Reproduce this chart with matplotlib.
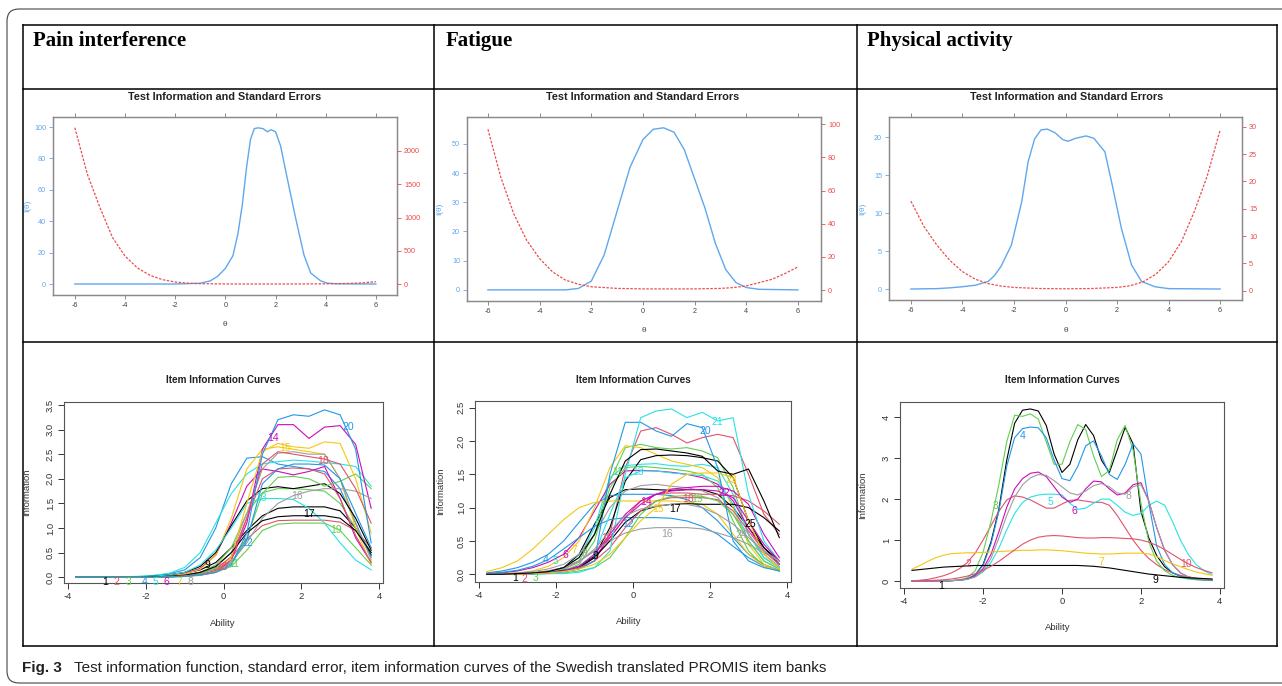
import matplotlib
matplotlib.use('Agg')
from matplotlib import pyplot as plt
from matplotlib.lines import Line2D
from matplotlib.patches import FancyBboxPatch
from matplotlib.transforms import IdentityTransform

# ---------------- data ----------------
col_titles = ['Pain interference', 'Fatigue', 'Physical activity']
caption_bold = 'Fig. 3'
caption_text = 'Test information function, standard error, item information curves of the Swedish translated PROMIS item banks'

# test information / standard error (top row)
pain_info_x = [-6, -2, -1, -0.6, -0.3, 0, 0.3, 0.5, 0.67, 0.85, 1.0, 1.15, 1.3, 1.5, 1.67, 1.82, 2.0, 2.2,
               2.47, 2.8, 3.13, 3.4, 3.8, 4.07, 4.5, 6]
pain_info = [0, 0, 0.5, 2, 5, 10, 18, 32, 50, 75, 92, 99, 99.5, 99, 97, 98.3, 97, 88,
             67, 42, 18.6, 7, 2, 0.5, 0.1, 0]
pain_se_x = [-6, -5.5, -5, -4.5, -4, -3.5, -3, -2.5, -2, -1.5, -1, 0, 1, 2, 3, 4, 5, 5.5, 6]
pain_se = [2350, 1650, 1150, 700, 420, 240, 130, 65, 30, 12, 5, 1, 0.5, 0.5, 1, 3, 10, 18, 35]

fat_info_x = [-6, -3, -2.5, -2, -1.5, -1, -0.5, 0, 0.4, 0.8, 1.2, 1.6, 2.0, 2.4, 2.8, 3.2, 3.6, 4, 4.5, 6]
fat_info = [0, 0, 0.5, 3, 12, 27, 42, 51.5, 55, 55.5, 54, 48, 38, 28, 16, 7, 2.5, 0.8, 0.2, 0]
fat_se_x = [-6, -5.5, -5, -4.5, -4, -3.5, -3, -2.5, -2, -1, 0, 2, 3, 3.5, 4, 4.5, 5, 5.5, 6]
fat_se = [97, 68, 46, 30, 19, 11, 6, 3.5, 2, 1, 0.7, 0.7, 1, 1.5, 2.5, 4.5, 6.5, 10, 14]

phys_info_x = [-6, -5, -4.5, -4, -3.5, -3, -2.75, -2.5, -2.1, -1.7, -1.45, -1.2, -0.95, -0.7, -0.4, -0.1,
               0.1, 0.4, 0.8, 1.1, 1.53, 1.79, 2.17, 2.56, 2.95, 3.47, 4, 6]
phys_info = [0, 0.05, 0.15, 0.3, 0.5, 1.0, 1.8, 3.0, 5.8, 11.5, 16.8, 19.8, 21, 21.1, 20.6, 19.7,
             19.5, 19.9, 20.2, 19.9, 18.1, 14.1, 8, 3.2, 1, 0.3, 0.05, 0]
phys_se_x = [-6, -5.5, -5, -4.5, -4, -3.5, -3, -2.5, -2, -1, 0, 1, 2, 2.5, 3, 3.5, 4, 4.5, 5, 5.5, 6]
phys_se = [16.4, 11.8, 8.4, 5.6, 3.5, 2.1, 1.3, 0.85, 0.6, 0.4, 0.35, 0.4, 0.6, 0.9, 1.6, 3.0, 5.3, 9,
           14.5, 21, 29.4]

# item information curves (bottom row)
pain_x = [-3.8, -3.4, -3.0, -2.6, -2.2, -1.8, -1.4, -1.0, -0.6, -0.2, 0.2, 0.6, 1.0, 1.4, 1.8, 2.2, 2.6, 3.0, 3.4, 3.8]
pain_items = [
    [0, 0, 0, 0, 0.01, 0.02, 0.04, 0.08, 0.15, 0.3, 0.6, 0.95, 1.25, 1.4, 1.43, 1.43, 1.43, 1.35, 1.0, 0.45],
    [0, 0, 0, 0, 0, 0.01, 0.02, 0.04, 0.08, 0.18, 0.4, 0.78, 1.05, 1.15, 1.16, 1.16, 1.16, 1.12, 0.95, 0.6],
    [0, 0, 0, 0, 0, 0.01, 0.02, 0.05, 0.1, 0.25, 0.6, 1.3, 1.72, 1.8, 1.8, 1.78, 1.75, 1.5, 1.0, 0.5],
    [0, 0, 0, 0, 0.01, 0.03, 0.07, 0.15, 0.4, 1.0, 1.9, 2.42, 2.45, 2.3, 2.25, 2.2, 2.15, 1.8, 1.1, 0.4],
    [0, 0, 0, 0.01, 0.02, 0.04, 0.08, 0.2, 0.5, 1.1, 1.7, 2.1, 2.3, 2.35, 2.38, 2.36, 2.33, 2.3, 2.25, 1.85],
    [0, 0, 0, 0, 0.01, 0.02, 0.04, 0.08, 0.18, 0.45, 1.1, 1.85, 2.2, 2.15, 2.08, 2.15, 2.25, 1.6, 0.8, 0.3],
    [0, 0, 0, 0, 0, 0.01, 0.03, 0.07, 0.16, 0.45, 1.2, 2.2, 2.6, 2.65, 2.6, 2.55, 2.5, 2.0, 1.0, 0.25],
    [0, 0, 0, 0, 0, 0.01, 0.02, 0.04, 0.08, 0.2, 0.5, 1.3, 2.2, 2.52, 2.55, 2.5, 2.5, 2.0, 1.1, 0.35],
    [0, 0, 0, 0, 0.01, 0.02, 0.05, 0.1, 0.22, 0.5, 1.05, 1.55, 1.8, 1.84, 1.8, 1.85, 1.9, 1.7, 1.2, 0.55],
    [0, 0, 0, 0, 0, 0.01, 0.02, 0.05, 0.1, 0.16, 0.42, 1.2, 2.0, 2.2, 2.22, 2.2, 2.1, 1.6, 0.85, 0.3],
    [0, 0, 0, 0, 0, 0, 0.01, 0.03, 0.08, 0.18, 0.3, 0.8, 1.7, 2.03, 2.05, 2.0, 1.85, 1.95, 2.1, 1.8],
    [0, 0, 0, 0, 0, 0, 0.01, 0.02, 0.05, 0.12, 0.28, 0.75, 1.9, 2.2, 2.3, 2.3, 2.28, 2.0, 1.3, 0.6],
    [0, 0, 0, 0, 0.01, 0.02, 0.05, 0.1, 0.25, 0.55, 1.0, 1.5, 1.6, 1.6, 1.58, 1.4, 1.1, 0.7, 0.35, 0.15],
    [0, 0, 0, 0, 0, 0, 0.01, 0.02, 0.04, 0.1, 0.35, 1.1, 2.6, 3.1, 3.1, 2.82, 3.05, 3.08, 2.7, 1.4],
    [0, 0, 0, 0, 0, 0, 0.01, 0.02, 0.05, 0.12, 0.4, 1.5, 2.55, 2.72, 2.65, 2.62, 2.75, 2.72, 2.0, 0.9],
    [0, 0, 0, 0, 0, 0, 0.01, 0.02, 0.05, 0.12, 0.3, 0.7, 1.2, 1.5, 1.66, 1.75, 1.8, 1.8, 1.75, 1.6],
    [0, 0, 0, 0, 0, 0.01, 0.02, 0.04, 0.1, 0.22, 0.5, 0.9, 1.15, 1.23, 1.25, 1.25, 1.25, 1.2, 0.95, 0.5],
    [0, 0, 0, 0, 0, 0, 0.01, 0.03, 0.06, 0.14, 0.35, 1.2, 2.3, 2.55, 2.5, 2.45, 2.4, 2.3, 1.8, 1.1],
    [0, 0, 0, 0, 0, 0, 0.01, 0.02, 0.05, 0.1, 0.22, 0.55, 0.95, 1.08, 1.1, 1.1, 1.1, 0.95, 0.6, 0.25],
    [0, 0, 0, 0, 0, 0, 0.01, 0.02, 0.05, 0.1, 0.25, 0.9, 2.5, 3.2, 3.3, 3.27, 3.4, 3.3, 2.6, 0.7],
]
pain_lab_x = [-3.05, -2.75, -2.45, -2.04, -1.74, -1.46, -1.13, -0.84, -0.42, -0.05,
              0.25, 0.6, 0.96, 1.28, 1.58, 1.88, 2.19, 2.57, 2.9, 3.2]
pain_lab_y = [-0.1, -0.1, -0.1, -0.1, -0.1, -0.1, -0.1, -0.1, 0.25, 0.2,
              0.26, 0.69, 1.62, 2.82, 2.62, 1.66, 1.29, 2.36, 0.96, 3.05]

fat_x = [-3.8, -3.4, -3.0, -2.6, -2.2, -1.8, -1.4, -1.0, -0.6, -0.2, 0.2, 0.6, 1.0, 1.4, 1.8, 2.2, 2.6, 3.0, 3.4, 3.8]
fat_items = [
    [0, 0, 0.01, 0.02, 0.04, 0.1, 0.3, 0.75, 1.15, 1.27, 1.28, 1.27, 1.26, 1.27, 1.27, 1.2, 1.0, 0.7, 0.4, 0.2],
    [0, 0, 0, 0.01, 0.02, 0.04, 0.08, 0.2, 0.6, 1.6, 2.15, 2.2, 2.1, 1.97, 2.05, 2.1, 2.05, 1.5, 0.9, 0.6],
    [0, 0, 0, 0.01, 0.03, 0.07, 0.2, 0.6, 1.4, 1.9, 1.95, 1.9, 1.88, 1.9, 1.85, 1.75, 1.3, 0.6, 0.25, 0.1],
    [0.02, 0.05, 0.1, 0.18, 0.3, 0.5, 0.78, 1.05, 1.18, 1.2, 1.2, 1.2, 1.18, 1.12, 1.0, 0.8, 0.55, 0.3, 0.15, 0.06],
    [0, 0, 0.01, 0.02, 0.04, 0.1, 0.25, 0.7, 1.45, 1.63, 1.65, 1.66, 1.63, 1.62, 1.65, 1.6, 1.2, 0.6, 0.25, 0.1],
    [0.01, 0.02, 0.05, 0.1, 0.18, 0.3, 0.55, 0.95, 1.35, 1.55, 1.56, 1.55, 1.53, 1.5, 1.45, 1.35, 1.1, 0.7, 0.35, 0.15],
    [0, 0.01, 0.02, 0.05, 0.12, 0.25, 0.5, 1.0, 1.6, 1.93, 1.9, 1.8, 1.7, 1.65, 1.6, 1.45, 1.0, 0.45, 0.15, 0.05],
    [0, 0.01, 0.02, 0.04, 0.08, 0.15, 0.3, 0.6, 1.0, 1.25, 1.33, 1.35, 1.32, 1.3, 1.25, 1.15, 0.9, 0.6, 0.3, 0.12],
    [0, 0, 0.01, 0.01, 0.03, 0.06, 0.12, 0.27, 0.7, 1.4, 1.72, 1.78, 1.79, 1.78, 1.75, 1.7, 1.45, 0.8, 0.4, 0.15],
    [0, 0, 0.01, 0.02, 0.05, 0.1, 0.2, 0.35, 0.55, 0.85, 1.1, 1.2, 1.22, 1.22, 1.2, 1.2, 1.18, 1.1, 0.95, 0.75],
    [0, 0, 0, 0.01, 0.02, 0.05, 0.15, 0.5, 1.3, 1.6, 1.62, 1.6, 1.58, 1.55, 1.5, 1.3, 0.8, 0.35, 0.12, 0.05],
    [0.01, 0.03, 0.06, 0.12, 0.22, 0.38, 0.55, 0.72, 0.82, 0.85, 0.85, 0.85, 0.84, 0.8, 0.72, 0.6, 0.42, 0.25, 0.12, 0.05],
    [0, 0, 0, 0.01, 0.02, 0.05, 0.12, 0.3, 0.9, 1.45, 1.55, 1.55, 1.52, 1.5, 1.48, 1.4, 1.05, 0.5, 0.2, 0.08],
    [0, 0, 0, 0.01, 0.02, 0.04, 0.1, 0.25, 0.55, 0.85, 1.05, 1.2, 1.28, 1.3, 1.32, 1.32, 1.25, 1.05, 0.6, 0.25],
    [0.04, 0.1, 0.2, 0.38, 0.6, 0.82, 1.0, 1.08, 1.1, 1.1, 1.1, 1.1, 1.1, 1.08, 1.05, 0.9, 0.6, 0.3, 0.12, 0.05],
    [0, 0, 0.01, 0.02, 0.05, 0.1, 0.2, 0.35, 0.5, 0.62, 0.68, 0.7, 0.7, 0.7, 0.68, 0.62, 0.55, 0.45, 0.32, 0.2],
    [0, 0, 0, 0.01, 0.02, 0.05, 0.1, 0.25, 0.5, 0.78, 0.95, 1.02, 1.05, 1.06, 1.05, 1.05, 1.05, 1.0, 0.85, 0.65],
    [0, 0, 0, 0.01, 0.02, 0.04, 0.1, 0.2, 0.4, 0.7, 0.95, 1.1, 1.15, 1.15, 1.15, 1.12, 0.95, 0.65, 0.35, 0.15],
    [0, 0, 0, 0, 0.01, 0.02, 0.05, 0.1, 0.25, 0.55, 0.9, 1.1, 1.17, 1.18, 1.17, 1.1, 0.9, 0.5, 0.2, 0.08],
    [0, 0, 0, 0.01, 0.02, 0.04, 0.08, 0.2, 1.5, 2.28, 2.28, 2.15, 2.07, 2.26, 2.2, 1.6, 0.5, 0.2, 0.1, 0.05],
    [0, 0, 0, 0, 0.01, 0.01, 0.03, 0.1, 0.35, 1.5, 2.35, 2.45, 2.48, 2.35, 2.43, 2.3, 2.35, 1.2, 0.5, 0.2],
    [0, 0, 0, 0.01, 0.02, 0.05, 0.12, 0.3, 0.6, 0.9, 1.1, 1.2, 1.25, 1.27, 1.27, 1.25, 1.15, 0.8, 0.45, 0.2],
    [0, 0, 0, 0.01, 0.02, 0.04, 0.08, 0.15, 0.3, 0.55, 0.8, 1.0, 1.35, 1.5, 1.52, 1.52, 1.45, 0.8, 0.3, 0.08],
    [0, 0, 0.01, 0.02, 0.04, 0.08, 0.18, 0.38, 0.65, 0.88, 0.98, 1.02, 1.05, 1.05, 1.0, 0.9, 0.75, 0.55, 0.35, 0.2],
    [0, 0, 0.01, 0.02, 0.04, 0.1, 0.25, 0.6, 1.2, 1.7, 1.87, 1.88, 1.85, 1.82, 1.77, 1.55, 1.5, 1.58, 1.1, 0.55],
]
fat_lab_x = [-3.05, -2.81, -2.52, -2.28, -2.02, -1.75, -1.52, -1.25, -0.97, -0.67, -0.4, -0.12, 0.12,
             0.33, 0.65, 0.88, 1.1, 1.42, 1.67, 1.88, 2.19, 2.38, 2.55, 2.8, 3.05]
fat_lab_y = [-0.06, -0.07, -0.05, 0.21, 0.2, 0.29, 0.36, 0.3, 0.27, 0.55, 1.53, 0.75, 1.54,
             1.09, 0.98, 0.6, 0.98, 1.13, 1.13, 2.15, 2.28, 1.22, 1.42, 0.59, 0.76]

phys_x = [-3.8, -3.6, -3.4, -3.2, -3.0, -2.8, -2.6, -2.4, -2.2, -2.0, -1.8, -1.6, -1.4, -1.2, -1.0, -0.8,
          -0.6, -0.4, -0.2, 0.0, 0.2, 0.4, 0.6, 0.8, 1.0, 1.2, 1.4, 1.6, 1.8, 2.0, 2.2, 2.4, 2.6, 2.8,
          3.0, 3.2, 3.4, 3.6, 3.8]
phys_items = [
    [0, 0, 0, 0, 0, 0.01, 0.02, 0.05, 0.15, 0.4, 0.95, 1.75, 2.95, 3.85, 4.17, 4.2, 4.15, 3.8, 3.1, 2.65,
     2.85, 3.45, 3.82, 3.55, 2.95, 2.65, 3.2, 3.75, 3.35, 1.7, 1.05, 0.62, 0.35, 0.2, 0.12, 0.07, 0.04, 0.03, 0.02],
    [0, 0.02, 0.04, 0.08, 0.13, 0.2, 0.3, 0.45, 0.68, 1.0, 1.35, 1.7, 1.98, 2.08, 2.05, 1.98, 1.88, 1.78, 1.78, 1.88,
     1.97, 1.98, 1.95, 1.92, 1.92, 1.85, 1.6, 1.3, 1.0, 0.75, 0.55, 0.4, 0.28, 0.2, 0.14, 0.1, 0.07, 0.05, 0.04],
    [0, 0, 0, 0, 0, 0.01, 0.03, 0.08, 0.25, 0.7, 1.45, 2.35, 3.4, 4.05, 4.02, 4.08, 3.95, 3.4, 2.85, 2.85,
     3.4, 3.82, 3.7, 3.05, 2.55, 2.7, 3.45, 3.8, 3.2, 1.9, 0.95, 0.48, 0.25, 0.14, 0.08, 0.05, 0.03, 0.02, 0.01],
    [0, 0, 0, 0, 0, 0.01, 0.02, 0.05, 0.15, 0.38, 0.9, 1.7, 2.8, 3.5, 3.72, 3.76, 3.74, 3.5, 2.95, 2.5,
     2.45, 2.8, 3.3, 3.42, 3.05, 2.6, 2.48, 2.85, 3.35, 3.1, 1.9, 0.85, 0.4, 0.2, 0.12, 0.07, 0.05, 0.03, 0.02],
    [0, 0, 0, 0, 0, 0.01, 0.02, 0.04, 0.1, 0.22, 0.45, 0.8, 1.25, 1.65, 1.92, 2.05, 2.1, 2.12, 2.12, 2.1,
     1.9, 1.75, 1.78, 1.9, 2.0, 2.0, 1.85, 1.68, 1.6, 1.65, 1.85, 1.95, 1.85, 1.45, 1.0, 0.65, 0.4, 0.25, 0.16],
    [0, 0, 0, 0, 0.01, 0.01, 0.02, 0.05, 0.12, 0.3, 0.65, 1.2, 1.8, 2.25, 2.5, 2.63, 2.66, 2.55, 2.3, 2.05,
     1.92, 2.0, 2.25, 2.44, 2.42, 2.25, 2.1, 2.15, 2.35, 2.4, 1.95, 1.3, 0.75, 0.4, 0.2, 0.1, 0.06, 0.04, 0.03],
    [0.29, 0.38, 0.48, 0.57, 0.63, 0.67, 0.68, 0.69, 0.69, 0.7, 0.71, 0.72, 0.73, 0.74, 0.75, 0.75, 0.76, 0.76,
     0.75, 0.74, 0.72, 0.7, 0.68, 0.67, 0.66, 0.66, 0.67, 0.68, 0.68, 0.68, 0.66, 0.6, 0.5, 0.42, 0.35, 0.28,
     0.22, 0.18, 0.14],
    [0, 0, 0, 0, 0.01, 0.01, 0.02, 0.04, 0.1, 0.25, 0.55, 1.05, 1.6, 2.05, 2.35, 2.52, 2.6, 2.58, 2.45, 2.3,
     2.15, 2.1, 2.2, 2.33, 2.38, 2.3, 2.15, 2.12, 2.3, 2.35, 1.95, 1.3, 0.75, 0.4, 0.2, 0.1, 0.06, 0.04, 0.03],
    [0.26, 0.28, 0.3, 0.32, 0.34, 0.35, 0.36, 0.37, 0.38, 0.38, 0.38, 0.38, 0.38, 0.38, 0.38, 0.38, 0.38, 0.38,
     0.38, 0.38, 0.38, 0.38, 0.37, 0.36, 0.34, 0.32, 0.29, 0.26, 0.23, 0.2, 0.17, 0.15, 0.13, 0.11, 0.09, 0.08,
     0.07, 0.06, 0.05],
    [0, 0, 0.01, 0.02, 0.03, 0.05, 0.08, 0.12, 0.18, 0.26, 0.36, 0.48, 0.62, 0.76, 0.9, 1.0, 1.07, 1.1, 1.11,
     1.1, 1.08, 1.06, 1.05, 1.05, 1.06, 1.06, 1.05, 1.04, 1.03, 1.0, 0.95, 0.87, 0.77, 0.65, 0.53, 0.42, 0.33,
     0.26, 0.2],
]
phys_lab_x = [-3.06, -2.38, -1.69, -0.99, -0.3, 0.32, 1.0, 1.69, 2.37, 3.15]
phys_lab_y = [-0.11, 0.41, 1.82, 3.53, 1.94, 1.72, 0.47, 2.08, 0.02, 0.41]

# ---------------- style ----------------
W, H = 1282, 686
R_PAL = ['#000000', '#DF536B', '#61D04F', '#2297E6', '#28E2E5', '#CD0BBC', '#F5C710', '#9E9E9E']
BLUE = '#5FA8EE'
RED = '#EE4B4B'
SANS = ['Liberation Sans', 'DejaVu Sans']
PX = IdentityTransform()

plt.rcParams['axes.unicode_minus'] = False
plt.rcParams['font.family'] = SANS

fig = plt.figure(figsize=(W / 100, H / 100), dpi=100)


def fig_box(l, t, r, b):
    return [l / W, 1 - b / H, (r - l) / W, (b - t) / H]


def hline(x0, x1, y, **kw):
    fig.add_artist(Line2D([x0, x1], [H - y, H - y], transform=PX, **kw))


def vline(x, y0, y1, **kw):
    fig.add_artist(Line2D([x, x], [H - y0, H - y1], transform=PX, **kw))


def ptext(x, y, s, **kw):
    fig.text(x, H - y, s, transform=PX, **kw)


def info_se_panel(box, title_x, xlim, ylim_i, ylim_se, yt_i, yt_se, xi, vi, xs, vs, ylab_x):
    ax = fig.add_axes(fig_box(*box))
    ax.plot(xi, vi, color=BLUE, lw=1.0, zorder=3)
    ax.set_xlim(xlim)
    ax.set_ylim(ylim_i)
    ax2 = ax.twinx()
    ax2.plot(xs, vs, color=RED, lw=0.9, ls=(0, (2.0, 1.2)))
    ax2.set_ylim(ylim_se)
    xt = [-6, -4, -2, 0, 2, 4, 6]
    ax.set_xticks(xt)
    ax.set_xticklabels([str(t) for t in xt])
    ax.set_yticks(yt_i)
    ax.set_yticklabels([str(t) for t in yt_i])
    ax2.set_yticks(yt_se)
    ax2.set_yticklabels([str(t) for t in yt_se])
    ax.tick_params(axis='x', top=True, direction='out', length=3, width=0.6, color='#777777',
                   labelsize=5.2, labelcolor='#444444', pad=2)
    ax.tick_params(axis='y', direction='out', length=3, width=0.6, color=BLUE,
                   labelsize=5.2, labelcolor=BLUE, pad=2)
    ax2.tick_params(axis='y', direction='out', length=3, width=0.6, color=RED,
                    labelsize=5.2, labelcolor=RED, pad=2)
    for a in (ax, ax2):
        for sp in a.spines.values():
            sp.set_color('#8a8a8a')
            sp.set_linewidth(0.9)
    cx = (box[0] + box[2]) / 2
    ptext(title_x, 97, 'Test Information and Standard Errors', fontsize=7.8, fontweight='bold',
          ha='center', va='center', color='#222222')
    ptext(ylab_x, (box[1] + box[3]) / 2, 'I(\u03b8)', fontsize=6, color=BLUE, rotation=90,
          ha='center', va='center')
    ptext(cx, box[3] + 30, '\u03b8', fontsize=6, color='#444444', ha='center', va='center')


def item_panel(box, title_x, xlab_xy, ylab_x, ylim, yt, ytl, x, curves, lab_x, lab_y):
    ax = fig.add_axes(fig_box(*box))
    for i, c in enumerate(curves):
        ax.plot(x, c, color=R_PAL[i % 8], lw=0.8)
    for i in range(len(lab_x)):
        ax.text(lab_x[i], lab_y[i], str(i + 1), color=R_PAL[i % 8], fontsize=7.5,
                ha='center', va='center')
    ax.set_xlim(-4.104, 4.104)
    ax.set_ylim(ylim)
    xt = [-4, -2, 0, 2, 4]
    ax.set_xticks(xt)
    ax.set_xticklabels([str(t) for t in xt])
    ax.set_yticks(yt)
    ax.set_yticklabels(ytl, rotation=90, va='center')
    ax.tick_params(direction='out', length=4, width=0.7, labelsize=6.8, colors='#333333', pad=2.5)
    for sp in ax.spines.values():
        sp.set_color('#555555')
        sp.set_linewidth(0.8)
    ptext(title_x, 380, 'Item Information Curves', fontsize=7.2, fontweight='bold',
          ha='center', va='center', color='#222222')
    ptext(xlab_xy[0], xlab_xy[1], 'Ability', fontsize=6.8, color='#333333', ha='center', va='center')
    ptext(ylab_x, (box[1] + box[3]) / 2, 'Information', fontsize=6.8, color='#333333',
          rotation=90, ha='center', va='center')


# ---------------- frame, table, captions ----------------
fig.add_artist(FancyBboxPatch((7, H - 683), 1320, 674, boxstyle='round,pad=0,rounding_size=12',
                              transform=PX, fill=False, ec='#444444', lw=0.8))
tab_l, tab_r, tab_t, tab_b = 23, 1277, 25, 646
row_y = [89, 342]
col_x = [434, 857]
for y in [tab_t] + row_y + [tab_b]:
    hline(tab_l, tab_r, y, color='black', lw=1.1)
for x in [tab_l] + col_x + [tab_r]:
    vline(x, tab_t, tab_b, color='black', lw=1.1)

for x0, s in zip([33, 446, 867], col_titles):
    ptext(x0, 41, s, fontsize=15, fontweight='bold', family=['Liberation Serif', 'DejaVu Serif'],
          ha='left', va='center')

ptext(22, 668, caption_bold, fontsize=11, fontweight='bold',
      family=['Liberation Sans Narrow', 'Liberation Sans'], ha='left', va='center', color='#222222')
ptext(74, 668, caption_text, fontsize=11,
      family=['Liberation Sans Narrow', 'Liberation Sans'], ha='left', va='center', color='#222222')

# ---------------- top row ----------------
info_se_panel((53, 117, 397, 295), 225, (-6.87, 6.84), (-7.0, 106.4), (-165, 2511),
              [0, 20, 40, 60, 80, 100], [0, 500, 1000, 1500, 2000],
              pain_info_x, pain_info, pain_se_x, pain_se, 28)
info_se_panel((467, 117, 821, 301), 643, (-6.81, 6.89), (-3.8, 59.2), (-6.6, 104.4),
              [0, 10, 20, 30, 40, 50], [0, 20, 40, 60, 80, 100],
              fat_info_x, fat_info, fat_se_x, fat_se, 440)
info_se_panel((889, 117, 1242, 300), 1067, (-6.85, 6.85), (-1.45, 22.7), (-1.7, 31.8),
              [0, 5, 10, 15, 20], [0, 5, 10, 15, 20, 25, 30],
              phys_info_x, phys_info, phys_se_x, phys_se, 863)

# ---------------- bottom row ----------------
item_panel((64, 402, 383, 583), 223, (223, 623), 27, (-0.116, 3.56),
           [0, 0.5, 1, 1.5, 2, 2.5, 3, 3.5], ['0.0', '0.5', '1.0', '1.5', '2.0', '2.5', '3.0', '3.5'],
           pain_x, pain_items, pain_lab_x, pain_lab_y)
item_panel((475, 401, 791, 582), 633, (629, 621), 441, (-0.116, 2.6),
           [0, 0.5, 1, 1.5, 2, 2.5], ['0.0', '0.5', '1.0', '1.5', '2.0', '2.5'],
           fat_x, fat_items, fat_lab_x, fat_lab_y)
item_panel((900, 402, 1224, 588), 1062, (1058, 628), 863, (-0.17, 4.37),
           [0, 1, 2, 3, 4], ['0', '1', '2', '3', '4'],
           phys_x, phys_items, phys_lab_x, phys_lab_y)

fig.savefig('out.png', dpi=100)
